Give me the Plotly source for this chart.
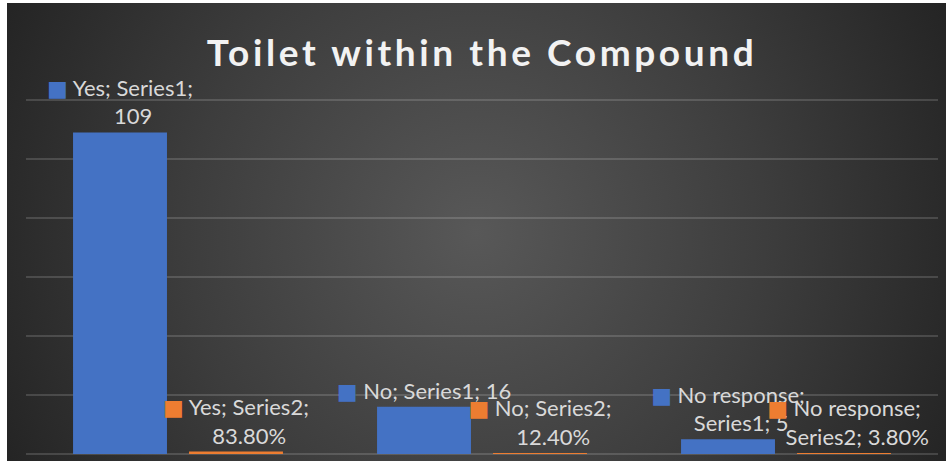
import base64
import textwrap
import plotly.graph_objects as go

# ---- data ----
categories = ["Yes", "No", "No response"]
series1_name = "Series1"
series2_name = "Series2"
series1_values = [109, 16, 5]
series2_values = [0.838, 0.124, 0.038]  # shown as percentages
title_text = "Toilet within the Compound"
grid_ticks = [0, 20, 40, 60, 80, 100, 120]

BLUE = "#4472C4"
ORANGE = "#ED7D31"
LABEL_COLOR = "#D9D9D9"

W, H = 946, 461
Y_TOP = 121
ML, MR, MB = 26, 8, 7
PX_PER_UNIT = 354 / 120
MT = round(H - MB - Y_TOP * PX_PER_UNIT)


def make_labels(series_name, values, fmt, color):
    out = []
    for cat, v in zip(categories, values):
        raw = f"{cat}; {series_name}; {fmt(v)}"
        lines = textwrap.wrap(raw, width=15)
        key = f"<span style='color:{color}'>■</span> "
        ghost = "<span style='color:rgba(0,0,0,0)'>■</span> "
        out.append(key + lines[0] + "".join("<br>" + ghost + ln for ln in lines[1:]))
    return out


s1_text = make_labels(series1_name, series1_values, lambda v: f"{v}", BLUE)
s2_text = make_labels(series2_name, series2_values, lambda v: f"{v*100:.2f}%", ORANGE)

fig = go.Figure()
common = dict(textposition="outside", constraintext="none", cliponaxis=False,
              textangle=0,
              textfont=dict(family="Lato, DejaVu Sans", size=22, color=LABEL_COLOR),
              hoverinfo="skip")
fig.add_trace(go.Bar(x=categories, y=series1_values, name=series1_name,
                     marker=dict(color=BLUE, line=dict(width=0)),
                     text=s1_text, **common))
fig.add_trace(go.Bar(x=categories, y=series2_values, name=series2_name,
                     marker=dict(color=ORANGE, line=dict(width=0)),
                     text=s2_text, **common))

# radial gradient background as an SVG image
bw, bh = W - 7, H - 3
svg = (f"<svg xmlns='http://www.w3.org/2000/svg' width='{bw}' height='{bh}' "
       f"viewBox='0 0 {bw} {bh}' preserveAspectRatio='none'><defs>"
       f"<radialGradient id='g' gradientUnits='userSpaceOnUse' cx='{bw/2}' cy='{bh/2}' r='525'>"
       "<stop offset='0' stop-color='#585858'/><stop offset='0.55' stop-color='#3d3d3d'/>"
       "<stop offset='1' stop-color='#242424'/></radialGradient></defs>"
       f"<rect width='{bw}' height='{bh}' fill='url(#g)'/></svg>")
src = "data:image/svg+xml;base64," + base64.b64encode(svg.encode()).decode()

pw = W - ML - MR
ph = H - MT - MB
fig.add_layout_image(dict(source=src, xref="paper", yref="paper",
                          x=(7 - ML) / pw, y=(H - MB - 3) / ph,
                          sizex=bw / pw, sizey=bh / ph,
                          xanchor="left", yanchor="top", sizing="stretch",
                          layer="below"))

grid = "rgba(255,255,255,0.15)"
fig.update_layout(
    width=W, height=H,
    margin=dict(l=ML, r=MR, t=MT, b=MB, pad=0),
    paper_bgcolor="white", plot_bgcolor="rgba(0,0,0,0)",
    barmode="group", bargap=0.237, bargroupgap=0.19,
    showlegend=False,
    title=dict(text=f"<b><span style='letter-spacing:3.6px'>{title_text}</span></b>",
               x=0.5, xref="paper", xanchor="center",
               y=1 - 53 / H, yref="container", yanchor="middle",
               font=dict(family="Lato, DejaVu Sans", size=37, color="#F2F2F2")),
    xaxis=dict(showticklabels=False, showgrid=False, zeroline=False, showline=False,
               ticks=""),
    yaxis=dict(range=[0, Y_TOP], tickvals=grid_ticks,
               showticklabels=False, showgrid=True,
               gridcolor=grid, gridwidth=1.5, zeroline=True, zerolinecolor=grid,
               zerolinewidth=1.5, showline=False, ticks=""),
)

fig.write_html("out.html")
